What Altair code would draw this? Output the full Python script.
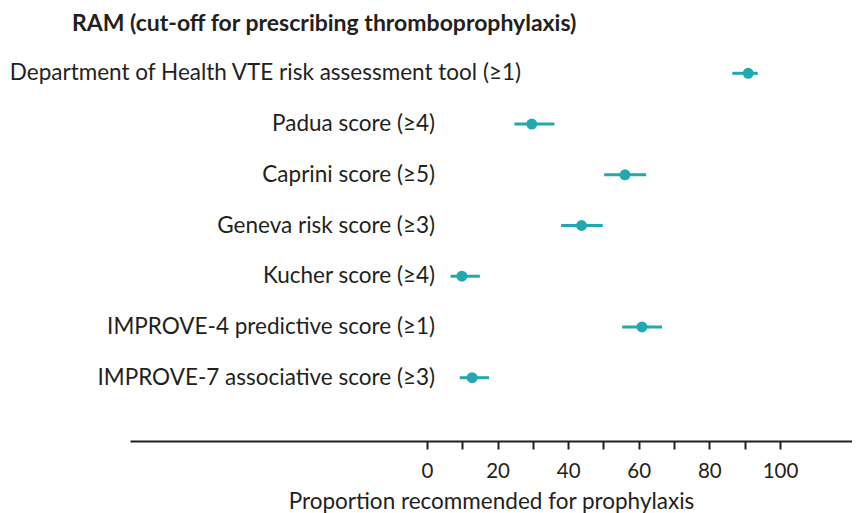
import altair as alt
import pandas as pd

ram_labels = [
    "Department of Health VTE risk assessment tool (≥1)",
    "Padua score (≥4)",
    "Caprini score (≥5)",
    "Geneva risk score (≥3)",
    "Kucher score (≥4)",
    "IMPROVE-4 predictive score (≥1)",
    "IMPROVE-7 associative score (≥3)",
]
estimates = [91.0, 29.7, 56.1, 43.8, 9.9, 60.9, 12.8]
lower = [86.5, 24.8, 50.2, 38.0, 6.7, 55.3, 9.3]
upper = [93.7, 36.1, 62.1, 49.8, 15.0, 66.6, 17.6]
tick_values = [0, 10, 20, 30, 40, 50, 60, 70, 80, 90, 100]
heading = "RAM (cut-off for prescribing thromboprophylaxis)"
x_title = "Proportion recommended for prophylaxis"

df = pd.DataFrame({"ram": ram_labels, "est": estimates, "lo": lower, "hi": upper})
head_df = pd.DataFrame({"t": [heading]})

TEAL = "#22a9b0"
INK = "#231f20"
FONT = "Lato"

x_scale = alt.Scale(domain=[-84.1, 120.4], nice=False, zero=False)
y_scale = alt.Scale(type="point", domain=ram_labels, range=[33.3, 337.7], padding=0)

x_axis = alt.Axis(
    values=tick_values,
    labelExpr="datum.value % 20 == 0 ? datum.label : ''",
    grid=False,
    domainColor=INK,
    domainWidth=2,
    tickColor=INK,
    tickWidth=2,
    tickSize=8,
    labelFont=FONT,
    labelFontSize=20.5,
    labelColor=INK,
    labelPadding=12,
    title=x_title,
    titleFont=FONT,
    titleFontSize=22.5,
    titleFontWeight="normal",
    titleColor=INK,
    titlePadding=9,
)

base = alt.Chart(df)

rules = base.mark_rule(color=TEAL, strokeWidth=3).encode(
    x=alt.X("lo:Q", scale=x_scale, axis=x_axis),
    x2="hi:Q",
    y=alt.Y("ram:N", scale=y_scale, axis=None),
)

points = base.mark_circle(color=TEAL, opacity=1, size=120).encode(
    x=alt.X("est:Q", scale=x_scale),
    y=alt.Y("ram:N", scale=y_scale, axis=None),
)

labels_main = base.transform_filter(
    alt.datum.ram != ram_labels[0]
).mark_text(align="right", baseline="middle", font=FONT, fontSize=22.5, color=INK).encode(
    x=alt.value(305),
    y=alt.Y("ram:N", scale=y_scale, axis=None),
    text="ram:N",
)

labels_first = base.transform_filter(
    alt.datum.ram == ram_labels[0]
).mark_text(align="right", baseline="middle", font=FONT, fontSize=22.5, color=INK).encode(
    x=alt.value(391),
    y=alt.Y("ram:N", scale=y_scale, axis=None),
    text="ram:N",
)

title_mark = alt.Chart(head_df).mark_text(
    align="left", baseline="alphabetic", font=FONT, fontSize=23, fontWeight="bold", color=INK
).encode(
    x=alt.value(-58),
    y=alt.value(-9.5),
    text="t:N",
)

chart = alt.layer(rules, points, labels_main, labels_first, title_mark).properties(
    width=722,
    height=401,
    autosize=alt.AutoSizeParams(type="none"),
    padding={"left": 122, "top": 32, "right": 0, "bottom": 72},
).configure_view(stroke=None)

chart.save("out.html", embed_options={"renderer": "svg", "actions": False})
